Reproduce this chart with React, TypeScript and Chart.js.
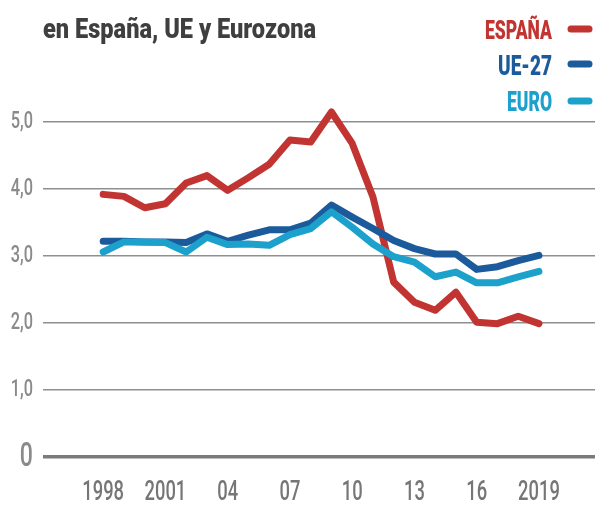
import React, { useEffect, useRef } from "react";
import { Chart, registerables } from "chart.js";

Chart.register(...registerables);

const years = [1998, 1999, 2000, 2001, 2002, 2003, 2004, 2005, 2006, 2007, 2008, 2009, 2010, 2011, 2012, 2013, 2014, 2015, 2016, 2017, 2018, 2019];
const espana = [3.92, 3.89, 3.72, 3.78, 4.09, 4.2, 3.98, 4.17, 4.37, 4.73, 4.7, 5.15, 4.68, 3.88, 2.61, 2.31, 2.19, 2.46, 2.01, 1.99, 2.1, 1.99];
const ue27 = [3.22, 3.22, 3.21, 3.21, 3.2, 3.33, 3.22, 3.31, 3.39, 3.39, 3.49, 3.76, 3.58, 3.41, 3.23, 3.11, 3.03, 3.03, 2.8, 2.84, 2.93, 3.01];
const euro = [3.06, 3.21, 3.21, 3.2, 3.06, 3.28, 3.17, 3.18, 3.16, 3.32, 3.41, 3.66, 3.43, 3.18, 2.99, 2.91, 2.69, 2.76, 2.6, 2.6, 2.69, 2.77];

const xTickValues = [1998, 2001, 2004, 2007, 2010, 2013, 2016, 2019];
const xTickLabels = ["1998", "2001", "04", "07", "10", "13", "16", "2019"];
const yTickValues = [0, 1, 2, 3, 4, 5];

const titleText = "en España, UE y Eurozona";
const seriesNames = ["ESPAÑA", "UE-27", "EURO"];
const seriesColors = ["#c13431", "#1c5b9b", "#1ba1cc"];

const FONT = 'Roboto, "DejaVu Sans Condensed", sans-serif';
const TICK_STRETCH = 0.68;

const overlayPlugin = {
  id: "overlay",
  afterDraw(chart: any) {
    const ctx = chart.ctx;
    ctx.save();
    // title
    ctx.font = `900 28px ${FONT}`;
    ctx.fillStyle = "#3f3f3f";
    ctx.textAlign = "left";
    ctx.textBaseline = "alphabetic";
    (ctx as any).__stretch = 273 / ctx.measureText(titleText).width;
    ctx.fillText(titleText, 43, 38);

    // legend
    const baselines = [39, 75, 111];
    const widths = [67, 54, 45];
    const swatchY = [29, 64, 101];
    ctx.textAlign = "right";
    seriesNames.forEach((name, i) => {
      ctx.font = `900 ${i === 0 ? 25 : 27}px ${FONT}`;
      ctx.fillStyle = seriesColors[i];
      (ctx as any).__stretch = widths[i] / ctx.measureText(name).width;
      ctx.fillText(name, 552, baselines[i]);
      ctx.beginPath();
      ctx.strokeStyle = seriesColors[i];
      ctx.lineWidth = 7;
      ctx.lineCap = "round";
      ctx.moveTo(571, swatchY[i]);
      ctx.lineTo(589, swatchY[i]);
      ctx.stroke();
    });
    (ctx as any).__stretch = undefined;
    ctx.restore();
  },
};

export default function App() {
  const ref = useRef<HTMLCanvasElement | null>(null);
  useEffect(() => {
    const canvas = ref.current;
    if (!canvas) return;
    const c2d: any = canvas.getContext("2d");
    const origFill = c2d.fillText;
    c2d.fillText = function (text: string, x: number, y: number, maxWidth?: number) {
      const s = this.__stretch ?? TICK_STRETCH;
      this.save();
      this.translate(x, y);
      this.scale(s, 1);
      if (maxWidth !== undefined) origFill.call(this, text, 0, 0, maxWidth / s);
      else origFill.call(this, text, 0, 0);
      this.restore();
    };

    const mk = (vals: number[], color: string) => ({
      data: years.map((y, i) => ({ x: y, y: vals[i] })),
      borderColor: color,
      backgroundColor: color,
      borderWidth: 7,
      pointRadius: 0,
      tension: 0,
      borderCapStyle: "round" as const,
      borderJoinStyle: "round" as const,
      clip: false as any,
    });
    const chart = new Chart(canvas, {
      type: "line",
      data: {
        datasets: [
          { label: seriesNames[2], ...mk(euro, seriesColors[2]) },
          { label: seriesNames[1], ...mk(ue27, seriesColors[1]) },
          { label: seriesNames[0], ...mk(espana, seriesColors[0]) },
        ],
      },
      options: {
        animation: false,
        responsive: false,
        maintainAspectRatio: false,
        layout: { padding: { top: 122, left: 0, right: 0, bottom: 0 } },
        plugins: { legend: { display: false }, tooltip: { enabled: false }, title: { display: false } },
        scales: {
          x: {
            type: "linear",
            min: 1995.1,
            max: 2021.7,
            grid: { display: false, drawTicks: false },
            border: { display: false },
            afterBuildTicks: (scale: any) => {
              scale.ticks = xTickValues.map((v) => ({ value: v }));
            },
            afterFit: (scale: any) => {
              scale.height = 48;
            },
            ticks: {
              autoSkip: false,
              maxRotation: 0,
              padding: 20,
              color: "#767676",
              font: { family: FONT, size: 27, weight: "500" },
              callback: (v: any) => {
                const i = xTickValues.indexOf(Number(v));
                return i >= 0 ? xTickLabels[i] : "";
              },
            },
          },
          y: {
            min: 0,
            max: 5,
            afterBuildTicks: (scale: any) => {
              scale.ticks = yTickValues.map((v) => ({ value: v }));
            },
            afterFit: (scale: any) => {
              scale.width = 43;
            },
            border: { display: false },
            grid: {
              drawTicks: false,
              color: (c: any) => (c.tick && c.tick.value === 0 ? "#7b7b7b" : "#8f8f8f"),
              lineWidth: (c: any) => (c.tick && c.tick.value === 0 ? 3.5 : 1.5),
            },
            ticks: {
              padding: 10,
              color: "#8a8a8a",
              font: (c: any) => ({ family: FONT, weight: "500", size: c.tick && c.tick.value === 0 ? 34 : 24 }),
              callback: (v: any) => (Number(v) === 0 ? "0" : Number(v).toFixed(1).replace(".", ",")),
            },
          },
        },
      },
      plugins: [overlayPlugin],
    });
    return () => {
      chart.destroy();
      c2d.fillText = origFill;
    };
  }, []);
  return (
    <div style={{ position: "fixed", left: 0, top: 0, width: 595, height: 505, background: "#fff" }}>
      <canvas ref={ref} width={595} height={505} style={{ width: 595, height: 505, display: "block" }} />
    </div>
  );
}
